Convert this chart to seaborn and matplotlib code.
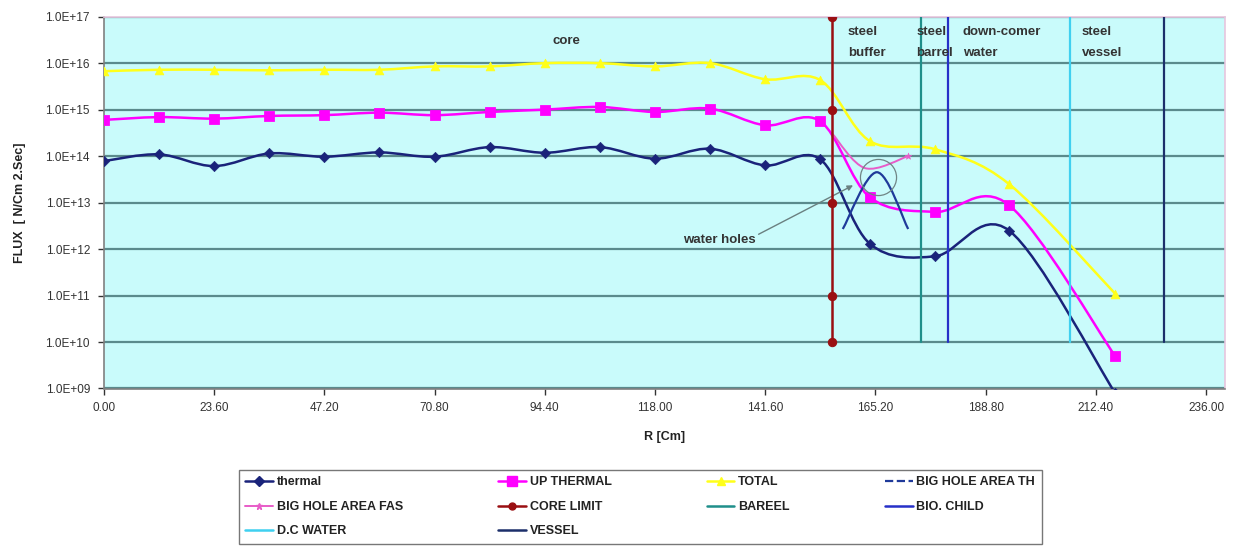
"""
Neutron flux profile across the reactor radius (thermal / up thermal / total).
"""

import numpy as np
import seaborn as sns
import matplotlib.pyplot as plt
from matplotlib.path import Path
from matplotlib.patches import PathPatch
from matplotlib.lines import Line2D

# -------------------------------------------------- DATA -------------------------------------------------- #

r_cm = [0.0, 11.8, 23.6, 35.4, 47.2, 59.0, 70.8, 82.6, 94.4, 106.2, 118.0, 129.8, 141.6, 153.4,
        164.0, 178.0, 193.8, 216.5]
thermal = [7.8e13, 1.09e14, 6.1e13, 1.14e14, 9.7e13, 1.2e14, 9.7e13, 1.56e14, 1.18e14, 1.56e14,
           8.8e13, 1.44e14, 6.3e13, 8.5e13, 1.3e12, 7.0e11, 2.5e12, 8.0e8]
up_thermal = [6.0e14, 6.9e14, 6.4e14, 7.3e14, 7.6e14, 8.6e14, 7.6e14, 8.9e14, 1.0e15, 1.14e15,
              8.9e14, 1.05e15, 4.6e14, 5.6e14, 1.3e13, 6.3e12, 8.8e12, 5.0e9]
total = [6.7e15, 7.2e15, 7.2e15, 7.0e15, 7.2e15, 7.2e15, 8.5e15, 8.5e15, 1.0e16, 1.0e16,
         8.5e15, 1.0e16, 4.5e15, 4.3e15, 2.1e14, 1.4e14, 2.5e13, 1.1e11]

big_hole_th_r = [158.2, 165.5, 172.2]
big_hole_th = [2.7e12, 4.5e13, 2.7e12]
big_hole_fas_r = [156.0, 163.0, 172.2]
big_hole_fas = [3.0e14, 5.5e13, 1.0e14]

core_limit_r = [155.8, 155.8, 155.8, 155.8, 155.8]
core_limit = [1e10, 1e11, 1e13, 1e15, 1e17]

# boundaries: name -> radius (lines run from 1e10 to 1e17)
boundary_names = ['BAREEL', 'BIO. CHILD', 'D.C WATER', 'VESSEL']
boundary_r = [175.0, 180.8, 206.8, 226.9]
boundary_span = [1e10, 1e17]
boundary_colors = ['#1f8f8a', '#2630c8', '#3fd0f0', '#1c2f6a']

region_labels = ['steel\nbuffer', 'steel\nbarrel', 'down-comer\nwater', 'steel\nvessel']
region_label_r = [159.3, 173.9, 183.9, 209.4]

x_ticks = [0.0, 23.6, 47.2, 70.8, 94.4, 118.0, 141.6, 165.2, 188.8, 212.4, 236.0]
y_ticks = [1e9, 1e10, 1e11, 1e12, 1e13, 1e14, 1e15, 1e16, 1e17]

# annotation anchors
water_holes_xy = (160.4, 2.35e13)
water_holes_text = (131.7, 1.6e12)
circle_xy = (165.7, 3.5e13)

# -------------------------------------------------- STYLE -------------------------------------------------- #

sns.set_theme(style="white")
plt.rcParams['font.family'] = ['Liberation Sans', 'DejaVu Sans']

c_thermal = '#1a237a'
c_up = '#ff00ff'
c_total = '#ffff1a'
c_bh_th = '#1f3a9a'
c_bh_fas = '#e85cc8'
c_core = '#9a0f12'


def smooth_path(xs, ys):
    # excel-like smoothed line, bezier through the points in log space
    pts = np.column_stack([xs, np.log10(ys)])
    n = len(pts)
    verts = [pts[0]]
    codes = [Path.MOVETO]
    for i in range(n - 1):
        p0 = pts[max(i - 1, 0)]
        p1 = pts[i]
        p2 = pts[i + 1]
        p3 = pts[min(i + 2, n - 1)]
        verts += [p1 + (p2 - p0) / 6, p2 - (p3 - p1) / 6, p2]
        codes += [Path.CURVE4] * 3
    verts = np.array(verts)
    verts[:, 1] = 10 ** verts[:, 1]
    return Path(verts, codes)


def smooth_line(ax, xs, ys, color, lw, z):
    ax.add_patch(PathPatch(smooth_path(xs, ys), facecolor='none', edgecolor=color, lw=lw, zorder=z))


# -------------------------------------------------- PLOT -------------------------------------------------- #

fig = plt.figure(figsize=(12.36, 5.55), dpi=100)
ax = fig.add_axes([0.084, 0.300, 0.907, 0.670])
ax.set_facecolor('#c9fbfb')
ax.set_yscale('log')

smooth_line(ax, r_cm, thermal, c_thermal, 1.8, 3)
sns.scatterplot(x=r_cm, y=thermal, marker='D', s=28, color=c_thermal, edgecolor=c_thermal, ax=ax, zorder=4)
smooth_line(ax, r_cm, up_thermal, c_up, 1.8, 3)
sns.scatterplot(x=r_cm, y=up_thermal, marker='s', s=50, color=c_up, edgecolor=c_up, ax=ax, zorder=4)
smooth_line(ax, r_cm, total, c_total, 1.8, 3)
sns.scatterplot(x=r_cm, y=total, marker='^', s=40, color=c_total, edgecolor=c_total, ax=ax, zorder=4)

smooth_line(ax, big_hole_th_r, big_hole_th, c_bh_th, 1.6, 5)
smooth_line(ax, big_hole_fas_r, big_hole_fas, c_bh_fas, 1.4, 5)
sns.scatterplot(x=big_hole_fas_r[-1:], y=big_hole_fas[-1:], marker='*', s=25, color=c_bh_fas,
                edgecolor=c_bh_fas, ax=ax, zorder=5)

sns.lineplot(x=core_limit_r, y=core_limit, estimator=None, sort=False, color=c_core, lw=1.8,
             marker='o', markersize=6, markeredgecolor=c_core, ax=ax, zorder=6)

for r, col in zip(boundary_r, boundary_colors):
    sns.lineplot(x=[r, r], y=boundary_span, estimator=None, sort=False, color=col, lw=1.6, ax=ax, zorder=6)

# text labels
ax.text(99.0, 3.0e16, 'core', fontsize=9.5, fontweight='bold', color='#333333', ha='center', va='center')
for lab, r in zip(region_labels, region_label_r):
    ax.text(r, 6.3e16, lab, fontsize=9.5, fontweight='bold', color='#333333', ha='left', va='top',
            linespacing=1.95, zorder=7)

ax.annotate('water holes', xy=water_holes_xy, xytext=water_holes_text, fontsize=9.5, fontweight='bold',
            color='#333333', ha='center', va='center',
            arrowprops=dict(arrowstyle='-|>', color='#6a8080', lw=1.0, mutation_scale=8,
                            relpos=(1.0, 0.8), shrinkA=0, shrinkB=0))
ax.plot(*circle_xy, marker='o', ms=26, mfc='none', mec='#708585', mew=0.9, zorder=7)

# axes
ax.set_xlim(0, 240)
ax.set_ylim(1e9, 1e17)
ax.set_xticks(x_ticks)
ax.set_xticklabels([f'{t:.2f}' for t in x_ticks])
ax.set_yticks(y_ticks)
ax.set_yticklabels([f'{v:.1E}' for v in y_ticks])
ax.minorticks_off()
ax.tick_params(axis='both', labelsize=8.5, colors='#333333', direction='out', length=4, width=1,
               bottom=True, left=True, pad=6)
ax.grid(axis='y', color='#5a8a8c', lw=1.6, zorder=1)
ax.set_axisbelow(True)
for side in ['left', 'bottom']:
    ax.spines[side].set_color('#808080')
    ax.spines[side].set_linewidth(1.2)
for side in ['top', 'right']:
    ax.spines[side].set_color('#e6c6de')
    ax.spines[side].set_linewidth(1.2)

ax.set_xlabel('R [Cm]', fontsize=9, fontweight='bold', color='#222222', labelpad=12)
ax.set_ylabel('FLUX  [ N/Cm 2.Sec]', fontsize=9, fontweight='bold', color='#222222', labelpad=14)

# legend (column-major order so rows read like the original)
h = {
    'thermal': Line2D([], [], color=c_thermal, lw=1.8, marker='D', ms=5),
    'UP THERMAL': Line2D([], [], color=c_up, lw=1.8, marker='s', ms=7),
    'TOTAL': Line2D([], [], color=c_total, lw=1.8, marker='^', ms=6),
    'BIG HOLE AREA TH': Line2D([], [], color=c_bh_th, lw=1.6, ls='--'),
    'BIG HOLE AREA FAS': Line2D([], [], color=c_bh_fas, lw=1.4, marker='*', ms=5),
    'CORE LIMIT': Line2D([], [], color=c_core, lw=1.8, marker='o', ms=5),
}
for name, col in zip(boundary_names, boundary_colors):
    h[name] = Line2D([], [], color=col, lw=1.8)
order = ['thermal', 'BIG HOLE AREA FAS', 'D.C WATER', 'UP THERMAL', 'CORE LIMIT', 'VESSEL',
         'TOTAL', 'BAREEL', 'BIG HOLE AREA TH', 'BIO. CHILD']
leg = fig.legend([h[k] for k in order], order, loc='lower left', ncol=4, mode='expand',
                 bbox_to_anchor=(0.188, 0.008, 0.660, 0.15), frameon=True, fancybox=False,
                 prop={'size': 9, 'weight': 'bold'}, handlelength=2.2, handletextpad=0.3,
                 borderpad=0.55, labelspacing=1.0)
leg.get_frame().set_edgecolor('#555555')
leg.get_frame().set_linewidth(1.0)
for t in leg.get_texts():
    t.set_color('#222222')

fig.savefig('out.png', dpi=100)
